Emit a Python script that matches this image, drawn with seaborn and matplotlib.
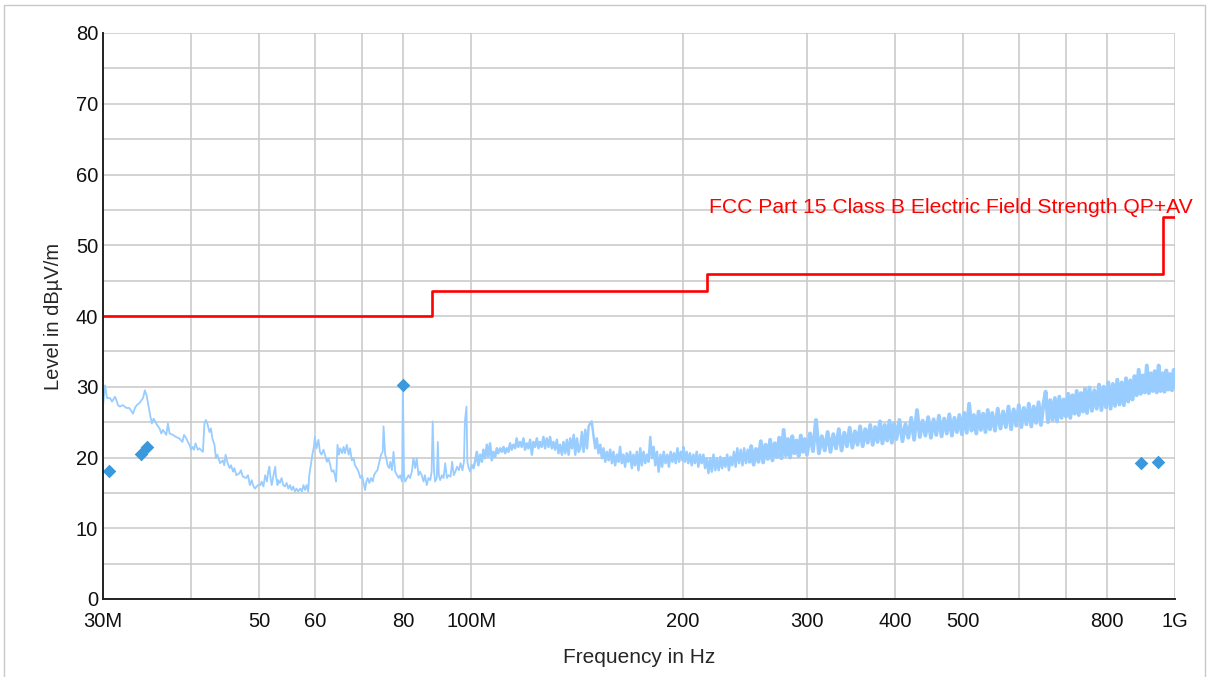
import matplotlib
matplotlib.use("Agg")
import matplotlib.pyplot as plt
import seaborn as sns
import pandas as pd
from matplotlib.patches import Rectangle
from matplotlib.ticker import FixedLocator, FixedFormatter, NullLocator, MultipleLocator

freq_low = [30.0, 30.2, 30.4, 30.7, 30.9, 31.2, 31.4, 31.5, 31.7, 32.0, 32.4, 32.7, 33.1, 33.3, 33.5,
            33.8, 34.2, 34.4, 34.6, 34.8, 35.0, 35.2, 35.4, 35.8, 36.1, 36.3, 36.5, 36.9, 37.1, 37.3,
            37.7, 38.1, 38.5, 38.9, 39.1, 39.4, 39.6, 39.8, 40.0, 40.2, 40.4, 40.6, 40.9, 41.1, 41.3,
            41.6, 41.8, 42.0, 42.2, 42.5, 42.7, 42.9, 43.2, 43.4, 43.6, 44.0, 44.4, 44.6, 44.8, 45.1,
            45.4, 45.6, 45.9, 46.1, 46.4, 46.9, 47.1, 47.4, 47.9, 48.2, 48.5, 48.8, 49.0, 49.3, 49.8,
            50.2, 50.4, 50.7, 51.0, 51.3, 51.5, 51.7, 51.9, 52.1, 52.4, 52.7, 52.8, 53.1, 53.2, 53.5,
            53.8, 54.1, 54.4, 54.7, 55.0, 55.3, 55.6, 55.9, 56.2, 56.5, 56.8, 57.2, 57.5, 57.8, 58.1,
            58.4, 58.7, 58.9, 59.2, 59.5, 59.8, 60.0, 60.3, 60.7, 61.0, 61.3, 61.7, 62.0, 62.4, 62.7,
            63.1, 63.4, 63.8, 64.1, 64.3, 64.6, 64.9, 65.2, 65.6, 65.9, 66.2, 66.6, 67.0, 67.3, 67.7,
            68.1, 68.4, 68.8, 69.2, 69.6, 70.0, 70.3, 70.7, 71.0, 71.3, 71.7, 72.1, 72.5, 72.8, 73.3,
            73.6, 74.1, 74.5, 74.9, 75.1, 75.5, 75.8, 76.1, 76.5, 76.8, 77.2, 77.6, 78.0, 78.5, 78.9,
            79.3, 79.8, 80.0, 80.3, 80.6, 81.1, 81.5, 81.9, 82.4, 82.8, 83.3, 83.7, 84.2, 84.6, 85.1,
            85.6, 86.0, 86.5, 87.0, 87.5, 87.9, 88.2, 88.6, 88.9, 89.4, 89.7, 90.0, 90.4, 90.9, 91.4,
            91.9, 92.4, 92.9, 93.5, 94.0, 94.5, 95.0, 95.5, 96.1, 96.6, 97.2, 97.7, 98.0, 98.5, 98.8,
            99.1, 99.7]
level_low = [27.2, 30.2, 28.4, 28.4, 27.9, 28.6, 27.9, 27.4, 27.2, 27.4, 27.0, 27.0, 26.2, 27.0, 27.4,
             27.7, 28.4, 29.5, 28.8, 27.4, 26.0, 24.8, 25.5, 24.6, 24.1, 23.4, 23.9, 23.2, 24.8, 23.4,
             23.2, 22.9, 22.7, 22.2, 23.2, 22.7, 22.2, 21.8, 21.1, 21.5, 21.1, 22.0, 21.1, 21.3, 21.1,
             20.8, 24.8, 25.3, 24.8, 23.6, 24.1, 22.7, 21.8, 19.9, 20.4, 19.2, 19.6, 18.9, 20.4, 19.2,
             18.5, 18.9, 18.0, 18.5, 17.5, 17.8, 18.2, 17.3, 17.1, 17.5, 16.1, 16.8, 16.1, 15.6, 16.1,
             16.1, 16.6, 15.9, 17.5, 16.6, 18.0, 18.7, 17.1, 16.1, 17.5, 18.7, 17.5, 16.1, 16.8, 16.4,
             17.1, 16.1, 15.9, 16.4, 15.6, 16.1, 15.4, 15.9, 15.2, 15.6, 15.2, 15.6, 15.2, 16.1, 15.4,
             16.1, 15.2, 17.5, 18.9, 20.4, 21.5, 22.9, 21.3, 22.5, 20.8, 20.4, 21.1, 20.4, 19.4, 19.9,
             18.9, 18.0, 18.2, 17.3, 16.6, 21.8, 20.4, 21.3, 20.6, 21.5, 20.6, 21.8, 20.4, 21.3, 19.6,
             19.9, 18.9, 18.5, 18.0, 17.1, 17.5, 16.6, 15.4, 16.6, 17.1, 16.4, 17.1, 16.6, 17.5, 18.0,
             18.2, 19.4, 20.4, 20.8, 24.4, 20.4, 19.9, 18.9, 18.5, 19.4, 18.2, 20.8, 18.0, 17.5, 17.1,
             17.5, 16.6, 30.2, 17.5, 16.6, 17.1, 17.5, 17.1, 18.0, 19.9, 18.5, 19.9, 17.5, 18.0, 17.5,
             16.6, 17.5, 16.1, 17.1, 16.8, 18.0, 25.1, 18.0, 16.6, 17.1, 22.2, 17.5, 16.8, 17.5, 17.1,
             19.2, 17.1, 17.5, 17.3, 19.4, 17.5, 18.0, 18.7, 18.2, 19.2, 18.2, 19.4, 25.1, 27.2, 19.4,
             18.7, 18.0]

freq_mid = [100.2, 100.8, 101.3, 101.9, 102.4, 103.0, 103.6, 104.1, 104.7, 105.3, 105.8, 106.4, 107.0,
            107.6, 108.2, 108.8, 109.3, 110.0, 110.6, 111.2, 111.8, 112.4, 113.0, 113.6, 114.2, 114.8,
            115.5, 116.1, 116.7, 117.4, 118.0, 118.7, 119.3, 120.0, 120.6, 121.3, 122.0, 122.6, 123.3,
            124.0, 124.7, 125.3, 126.0, 126.7, 127.4, 128.1, 128.8, 129.5, 130.2, 130.9, 131.6, 132.4,
            133.1, 133.8, 134.6, 135.3, 136.1, 136.8, 137.6, 138.3, 139.1, 139.9, 140.6, 141.4, 142.2,
            142.9, 143.7, 144.5, 145.3, 146.1, 146.9, 147.6, 148.4, 149.2, 150.1, 150.9, 151.7, 152.6,
            153.4, 154.2, 155.1, 155.9, 156.8, 157.6, 158.5, 159.3, 160.2, 161.1, 162.0, 162.8, 163.7,
            164.6, 165.5, 166.4, 167.3, 168.3, 169.2, 170.1, 171.0, 172.0, 172.9, 173.9, 174.8, 175.8,
            176.8, 177.7, 178.7, 179.7, 180.7, 181.7, 182.7, 183.7, 184.7, 185.8, 186.8, 187.8, 188.9,
            190.0, 191.0, 192.1, 193.2, 194.2, 195.3, 196.4, 197.5, 198.6, 199.7, 200.2, 201.3, 202.4,
            203.5, 204.6, 205.8, 206.9, 208.0, 209.2, 210.3, 211.5, 212.6, 213.8, 215.0, 216.2, 217.4,
            218.6, 219.8, 221.0, 222.3, 223.5, 224.8, 226.0, 227.3, 228.5, 229.8, 231.1, 232.4, 233.7,
            235.0, 236.3, 237.6, 238.9, 240.3, 241.6, 243.0, 244.3, 245.7, 247.1, 248.5]
level_mid = [18.9, 18.5, 19.4, 20.8, 18.9, 20.4, 19.4, 21.1, 19.9, 21.8, 20.1, 22.0, 19.6,
             20.8, 20.1, 21.3, 20.6, 21.3, 20.8, 21.5, 20.6, 21.3, 20.8, 22.0, 21.1, 21.8,
             21.3, 22.7, 21.5, 22.2, 21.5, 22.7, 21.1, 22.0, 21.3, 22.5, 20.4, 22.2, 21.5,
             22.7, 21.3, 22.2, 21.5, 22.9, 21.3, 22.7, 21.5, 22.9, 21.3, 22.2, 21.1, 22.5,
             20.6, 21.8, 20.4, 22.2, 20.6, 22.5, 20.4, 22.7, 21.3, 23.2, 20.4, 22.7, 20.8,
             21.3, 23.6, 20.8, 23.9, 21.3, 24.4, 24.8, 25.1, 23.2, 21.3, 22.7, 20.6, 21.8,
             19.9, 21.3, 19.4, 20.8, 19.6, 21.1, 19.2, 20.8, 18.9, 20.4, 19.4, 21.5, 19.2,
             20.4, 18.7, 20.6, 19.4, 20.8, 18.5, 20.4, 18.9, 20.8, 18.2, 21.3, 18.9, 20.8,
             19.2, 20.4, 19.4, 22.9, 19.9, 21.5, 18.9, 20.8, 18.0, 20.4, 18.7, 20.8, 19.2,
             20.4, 18.7, 20.8, 19.4, 20.6, 19.2, 21.3, 19.4, 20.8, 19.6, 21.5, 19.4, 20.8,
             19.2, 20.6, 18.9, 20.4, 19.2, 20.8, 18.7, 20.4, 19.2, 20.4, 18.5, 19.9, 17.8,
             19.9, 18.0, 20.4, 18.2, 19.9, 18.2, 20.1, 18.5, 19.9, 18.7, 20.4, 18.2, 20.1,
             18.9, 20.8, 18.7, 21.3, 19.2, 21.1, 18.9, 21.3, 19.2, 21.1, 19.4]

freq_high = [250, 252, 254, 256, 258, 260, 262, 264, 266, 268, 270, 272, 274, 276, 278, 280, 282, 284,
             286, 288, 290, 292, 294, 296, 298,
             300, 303, 306, 309, 312, 315, 318, 321, 324, 327, 330, 333, 336, 339, 342, 345, 348, 351,
             354, 357, 360, 363, 366, 369, 372, 375, 378, 381, 384, 387, 390, 393, 396, 399,
             402, 406, 410, 414, 418, 422, 426, 430, 434, 438, 442, 446, 450, 454, 458, 462, 466, 470,
             474, 478, 482, 486, 490, 494, 498, 502, 506, 510, 514, 518, 522, 526, 530, 534, 538, 542,
             546, 550,
             555, 560, 565, 570, 575, 580, 585, 590, 595, 600, 605, 610, 615, 620, 625, 630, 635, 640,
             645, 650, 655, 660, 665, 670, 675, 680, 685, 690, 695, 700, 705, 710, 715, 720, 725, 730,
             735, 740, 745, 750,
             756, 762, 768, 774, 780, 786, 792, 798, 804, 810, 816, 822, 828, 834, 840, 846, 852, 858,
             864, 870, 876, 882, 888, 894, 900, 906, 912, 918, 924, 930, 936, 942, 948, 954, 960, 966,
             972, 978, 984, 990, 996, 1000]
level_high = [21.6, 19.0, 21.2, 19.4, 22.3, 19.3, 21.8, 19.8, 22.5, 19.6, 22.0, 20.1, 22.8, 19.9, 23.9,
              20.3, 22.6, 20.0, 23.0, 20.6, 22.4, 20.2, 23.1, 20.8, 22.6,
              20.4, 23.4, 20.9, 25.3, 20.6, 23.0, 21.0, 23.6, 20.8, 23.3, 21.3, 24.0, 21.0, 23.5, 21.6,
              24.2, 21.4, 23.7, 21.8, 24.4, 21.6, 24.0, 22.1, 24.6, 21.8, 24.3, 22.2, 25.1, 22.0, 24.6,
              22.4, 25.2, 22.1, 24.8,
              22.6, 25.3, 22.3, 24.7, 22.8, 25.6, 22.5, 26.7, 22.9, 25.2, 23.1, 25.7, 22.8, 25.4, 23.2,
              25.9, 23.0, 25.5, 23.4, 26.1, 23.1, 25.6, 23.6, 26.0, 23.3, 26.3, 23.5, 27.6, 23.8, 26.0,
              23.4, 26.5, 23.9, 26.2, 23.6, 26.7, 24.0, 26.3,
              23.8, 26.9, 24.1, 26.5, 24.3, 27.2, 24.0, 26.8, 24.5, 27.4, 24.3, 27.0, 24.7, 27.6, 24.4,
              27.2, 24.9, 27.8, 24.6, 27.4, 29.3, 25.0, 28.1, 25.3, 28.4, 25.1, 28.6, 25.6, 28.2, 25.8,
              29.0, 25.6, 28.8, 26.2, 29.4, 26.0, 29.1, 26.5, 29.7, 26.3,
              29.9, 26.6, 29.5, 26.9, 30.3, 26.7, 30.0, 27.1, 30.6, 26.9, 30.4, 27.3, 31.0, 27.5, 30.6,
              27.4, 31.2, 27.9, 30.9, 28.2, 31.5, 28.8, 32.4, 29.0, 31.6, 29.2, 33.0, 29.1, 31.9, 29.4,
              32.2, 29.2, 33.0, 29.4, 31.9, 29.3, 32.3, 29.6, 31.8, 29.5, 32.4, 30.0]

# final measurement points (diamonds)
peak_freq = [30.6, 34.0, 34.6, 80.1, 894, 946]
peak_level = [18.1, 20.5, 21.5, 30.3, 19.2, 19.3]

# FCC Part 15 class B limit
limit_freq = [30, 88, 216, 960, 1000]
limit_level = [40, 43.5, 46, 54, 54]

x_ticks = [30, 40, 50, 60, 70, 80, 100, 200, 300, 400, 500, 600, 700, 800, 1000]
x_labels = ["30M", "", "50", "60", "", "80", "100M", "200", "300", "400", "500", "", "", "800", "1G"]

trace_low = pd.DataFrame({"freq": freq_low + freq_mid[:1], "level": level_low + level_mid[:1]})
trace_mid = pd.DataFrame({"freq": freq_mid + freq_high[:1], "level": level_mid + level_high[:1]})
trace_high = pd.DataFrame({"freq": freq_mid[-1:] + freq_high, "level": level_mid[-1:] + level_high})
peaks = pd.DataFrame({"freq": peak_freq, "level": peak_level})
limit = pd.DataFrame({"freq": limit_freq, "level": limit_level})

sns.set_style("white")
plt.rcParams["font.family"] = ["Liberation Sans", "DejaVu Sans"]

fig = plt.figure(figsize=(12.09, 6.77), dpi=100)
ax = fig.add_axes([103 / 1209, 1 - 599 / 677, 1072 / 1209, 566 / 677])
fig.patches.append(Rectangle((4 / 1209, -0.02), 1201 / 1209, 1.02 - 5 / 677, transform=fig.transFigure,
                             fill=False, edgecolor="#c8c8c8", linewidth=1))

trace_color = "#99ccff"
sns.lineplot(data=trace_low, x="freq", y="level", ax=ax, sort=False, estimator=None,
             color=trace_color, linewidth=1.3, zorder=3)
sns.lineplot(data=trace_mid, x="freq", y="level", ax=ax, sort=False, estimator=None,
             color=trace_color, linewidth=1.8, zorder=3)
sns.lineplot(data=trace_high, x="freq", y="level", ax=ax, sort=False, estimator=None,
             color=trace_color, linewidth=2.8, zorder=3)
sns.lineplot(data=limit, x="freq", y="level", ax=ax, estimator=None, drawstyle="steps-post",
             color="#ff0000", linewidth=1.9, zorder=4)
sns.scatterplot(data=peaks, x="freq", y="level", ax=ax, marker="D", s=48, color="#3a98dc",
                linewidth=0, zorder=5)

ax.text(218, 55.4, "FCC Part 15 Class B Electric Field Strength QP+AV", color="#ff0000",
        fontsize=15.2, ha="left", va="center", clip_on=False)

ax.set_xscale("log")
ax.set_xlim(30, 1000)
ax.set_ylim(0, 80)
ax.xaxis.set_major_locator(FixedLocator(x_ticks))
ax.xaxis.set_major_formatter(FixedFormatter(x_labels))
ax.xaxis.set_minor_locator(NullLocator())
ax.yaxis.set_major_locator(MultipleLocator(10))
ax.yaxis.set_minor_locator(MultipleLocator(5))

ax.grid(True, which="both", axis="y", color="#c8c8c8", linewidth=1.1)
ax.grid(True, which="major", axis="x", color="#c8c8c8", linewidth=1.1)
ax.set_axisbelow(True)

for side in ["top", "right"]:
    ax.spines[side].set_visible(False)
for side in ["left", "bottom"]:
    ax.spines[side].set_color("#222222")
    ax.spines[side].set_linewidth(1.4)
    ax.spines[side].set_zorder(6)

ax.tick_params(axis="both", which="both", direction="inout", length=7, width=1, color="#222222",
               labelsize=14.5, labelcolor="#111111")
ax.tick_params(axis="y", pad=0)
ax.tick_params(axis="x", pad=6)

ax.set_xlabel("Frequency in Hz", fontsize=15, labelpad=12)
ax.set_ylabel("Level in dB\u00b5V/m", fontsize=14.5, labelpad=9)

fig.savefig("out.png", dpi=100)
